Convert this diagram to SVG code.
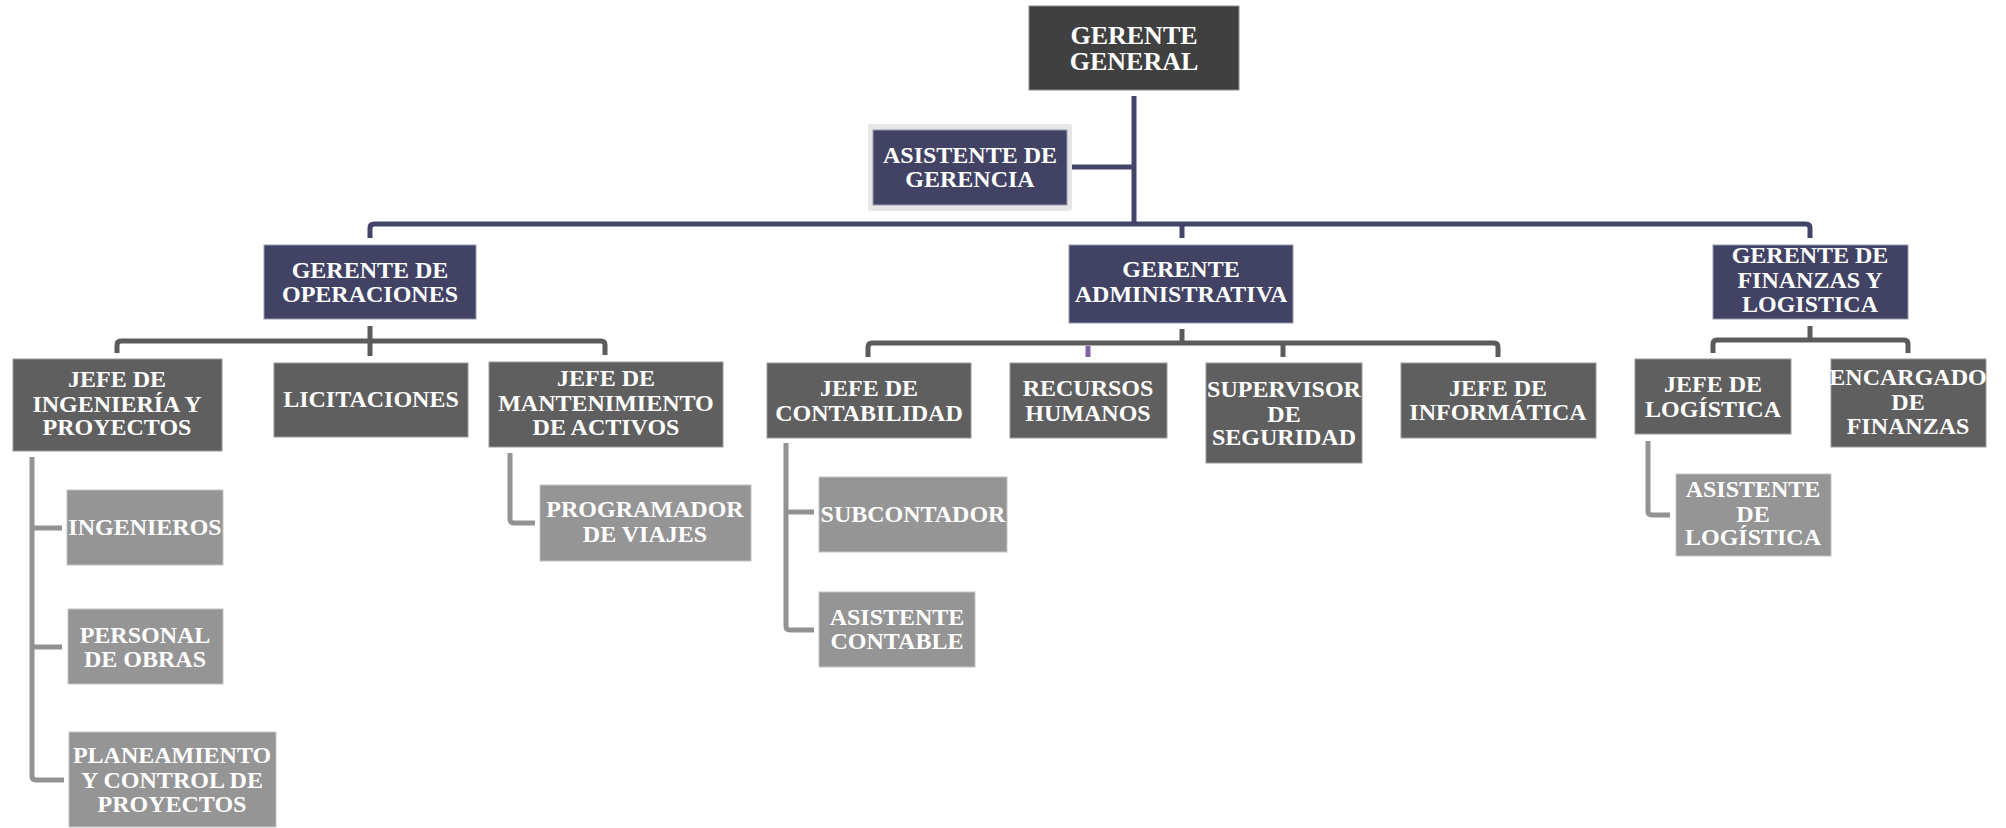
<svg xmlns="http://www.w3.org/2000/svg" width="2006" height="828" viewBox="0 0 2006 828">
<style>
  text { font-family: "Liberation Serif", "Times New Roman", serif; font-weight: bold; font-size: 24px; fill: #ffffff; text-anchor: middle; }
  .gg { fill: #404040; stroke: #8c8c8c; stroke-width: 1; }
  .nv { fill: #414264; stroke: #9a9ab4; stroke-width: 1; }
  .dk { fill: #5f5f5f; stroke: #9a9a9a; stroke-width: 1; }
  .lt { fill: #959595; stroke: #c4c4c4; stroke-width: 1; }
  .c1 { fill: none; stroke: #44446a; stroke-width: 5; }
  .c2 { fill: none; stroke: #5b5b5b; stroke-width: 5; }
  .c3 { fill: none; stroke: #929292; stroke-width: 5; }
  .cp { fill: none; stroke: #8064a2; stroke-width: 5; }
</style>
<rect width="2006" height="828" fill="#ffffff"/>

<g id="connectors">
  <path class="c1" d="M1134,96 V224"/>
  <path class="c1" d="M1072,167 H1134"/>
  <path class="c1" d="M370,238 V228 Q370,224 374,224 H1806 Q1810,224 1810,228 V238"/>
  <path class="c1" d="M1182,224 V238"/>

  <path class="c2" d="M117,353 V345 Q117,341 121,341 H601 Q605,341 605,345 V355"/>
  <path class="c2" d="M370,326 V356"/>

  <path class="c2" d="M868,357 V347 Q868,343 872,343 H1494 Q1498,343 1498,347 V357"/>
  <path class="c2" d="M1182,329 V343"/>
  <path class="c2" d="M1283,343 V357"/>
  <path class="cp" d="M1088,346 V357"/>

  <path class="c2" d="M1713,353 V344 Q1713,340 1717,340 H1904 Q1908,340 1908,344 V353"/>
  <path class="c2" d="M1810,326 V340"/>

  <path class="c3" d="M32,457 V776 Q32,780 36,780 H64"/>
  <path class="c3" d="M32,528 H62"/>
  <path class="c3" d="M32,647 H62"/>

  <path class="c3" d="M510,453 V519 Q510,523 514,523 H535"/>

  <path class="c3" d="M786,443 V626 Q786,630 790,630 H814"/>
  <path class="c3" d="M786,512 H814"/>

  <path class="c3" d="M1648,441 V511 Q1648,515 1652,515 H1670"/>
</g>

<g id="gerente-general">
  <rect class="gg" x="1029" y="6" width="210" height="84"/>
  <text x="1134" y="44" style="font-size:26px">GERENTE</text>
  <text x="1134" y="70" style="font-size:26px">GENERAL</text>
</g>

<g id="asistente-gerencia">
  <rect x="868" y="124" width="204" height="87" fill="#e6e6e6" rx="3"/>
  <rect class="nv" x="873" y="130" width="194" height="75"/>
  <text x="970" y="163">ASISTENTE DE</text>
  <text x="970" y="187">GERENCIA</text>
</g>

<g id="gerente-operaciones">
  <rect class="nv" x="264" y="245" width="212" height="74"/>
  <text x="370" y="278">GERENTE DE</text>
  <text x="370" y="302">OPERACIONES</text>
</g>

<g id="gerente-administrativa">
  <rect class="nv" x="1069" y="245" width="224" height="78"/>
  <text x="1181" y="277">GERENTE</text>
  <text x="1181" y="302">ADMINISTRATIVA</text>
</g>

<g id="gerente-finanzas">
  <rect class="nv" x="1713" y="245" width="195" height="74"/>
  <text x="1810" y="263">GERENTE DE</text>
  <text x="1810" y="288">FINANZAS Y</text>
  <text x="1810" y="312">LOGISTICA</text>
</g>

<g id="jefe-ingenieria">
  <rect class="dk" x="13" y="359" width="209" height="92"/>
  <text x="117" y="387">JEFE DE</text>
  <text x="117" y="412">INGENIERÍA Y</text>
  <text x="117" y="435">PROYECTOS</text>
</g>

<g id="licitaciones">
  <rect class="dk" x="274" y="363" width="194" height="74"/>
  <text x="371" y="407">LICITACIONES</text>
</g>

<g id="jefe-mantenimiento">
  <rect class="dk" x="489" y="362" width="234" height="85"/>
  <text x="606" y="386">JEFE DE</text>
  <text x="606" y="411">MANTENIMIENTO</text>
  <text x="606" y="435">DE ACTIVOS</text>
</g>

<g id="programador-viajes">
  <rect class="lt" x="540" y="485" width="211" height="76"/>
  <text x="645" y="517">PROGRAMADOR</text>
  <text x="645" y="542">DE VIAJES</text>
</g>

<g id="ingenieros">
  <rect class="lt" x="67" y="490" width="156" height="75"/>
  <text x="145" y="535">INGENIEROS</text>
</g>

<g id="personal-obras">
  <rect class="lt" x="68" y="609" width="155" height="75"/>
  <text x="145" y="643">PERSONAL</text>
  <text x="145" y="667">DE OBRAS</text>
</g>

<g id="planeamiento">
  <rect class="lt" x="69" y="732" width="207" height="95"/>
  <text x="172" y="763">PLANEAMIENTO</text>
  <text x="172" y="788">Y CONTROL DE</text>
  <text x="172" y="812">PROYECTOS</text>
</g>

<g id="jefe-contabilidad">
  <rect class="dk" x="767" y="363" width="204" height="75"/>
  <text x="869" y="396">JEFE DE</text>
  <text x="869" y="421">CONTABILIDAD</text>
</g>

<g id="recursos-humanos">
  <rect class="dk" x="1010" y="363" width="157" height="75"/>
  <text x="1088" y="396">RECURSOS</text>
  <text x="1088" y="421">HUMANOS</text>
</g>

<g id="supervisor-seguridad">
  <rect class="dk" x="1206" y="363" width="156" height="100"/>
  <text x="1284" y="397">SUPERVISOR</text>
  <text x="1284" y="422">DE</text>
  <text x="1284" y="445">SEGURIDAD</text>
</g>

<g id="jefe-informatica">
  <rect class="dk" x="1401" y="363" width="195" height="75"/>
  <text x="1498" y="396">JEFE DE</text>
  <text x="1498" y="420">INFORMÁTICA</text>
</g>

<g id="subcontador">
  <rect class="lt" x="819" y="477" width="188" height="75"/>
  <text x="913" y="522">SUBCONTADOR</text>
</g>

<g id="asistente-contable">
  <rect class="lt" x="819" y="592" width="156" height="75"/>
  <text x="897" y="625">ASISTENTE</text>
  <text x="897" y="649">CONTABLE</text>
</g>

<g id="jefe-logistica">
  <rect class="dk" x="1635" y="359" width="156" height="75"/>
  <text x="1713" y="392">JEFE DE</text>
  <text x="1713" y="417">LOGÍSTICA</text>
</g>

<g id="encargado-finanzas">
  <rect class="dk" x="1831" y="359" width="155" height="88"/>
  <text x="1908" y="385">ENCARGADO</text>
  <text x="1908" y="410">DE</text>
  <text x="1908" y="434">FINANZAS</text>
</g>

<g id="asistente-logistica">
  <rect class="lt" x="1676" y="474" width="155" height="82"/>
  <text x="1753" y="497">ASISTENTE</text>
  <text x="1753" y="522">DE</text>
  <text x="1753" y="545">LOGÍSTICA</text>
</g>
</svg>
